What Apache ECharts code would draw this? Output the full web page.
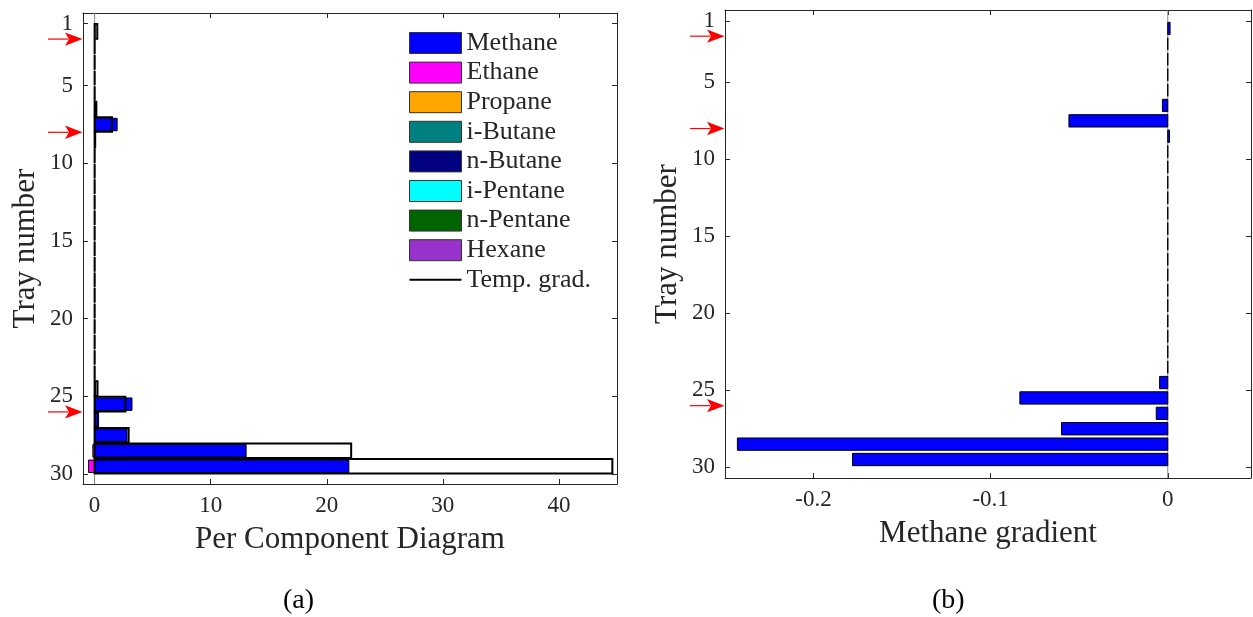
<!DOCTYPE html>
<html>
<head>
<meta charset="utf-8">
<script src="https://cdn.jsdelivr.net/npm/echarts@6/dist/echarts.min.js"></script>
<style>
  html, body { margin: 0; padding: 0; background: #ffffff; }
  #chart { width: 1253px; height: 617px; }
</style>
</head>
<body>
<div id="chart"></div>
<script>
// Gradients are reported between neighbouring trays, i.e. at the tray midpoints
const trays = [1.5, 2.5, 3.5, 4.5, 5.5, 6.5, 7.5, 8.5, 9.5, 10.5, 11.5, 12.5, 13.5, 14.5, 15.5,
               16.5, 17.5, 18.5, 19.5, 20.5, 21.5, 22.5, 23.5, 24.5, 25.5, 26.5, 27.5, 28.5, 29.5];

// Per-component contributions (stacked horizontally)
const methane   = [0.03, 0, 0, 0, 0, 0.05, 1.94, 0.02, 0, 0, 0, 0, 0, 0, 0,
                   0, 0, 0, 0, 0, 0, 0, 0, 0.10, 3.22, 0.26, 2.79, 13.05, 21.90];
const ethane    = [0, 0, 0, 0, 0, 0, 0, 0, 0, 0, 0, 0, 0, 0, 0,
                   0, 0, 0, 0, 0, 0, 0, 0, 0, 0, 0, 0, -0.15, -0.52];
const propane   = [0, 0, 0, 0, 0, 0, 0, 0, 0, 0, 0, 0, 0, 0, 0,
                   0, 0, 0, 0, 0, 0, 0, 0, 0, 0, 0, 0, 0, 0];
const iButane   = [0, 0, 0, 0, 0, 0, 0, 0, 0, 0, 0, 0, 0, 0, 0,
                   0, 0, 0, 0, 0, 0, 0, 0, 0, 0, 0, 0, 0, 0];
const nButane   = [0, 0, 0, 0, 0, 0, 0, 0, 0, 0, 0, 0, 0, 0, 0,
                   0, 0, 0, 0, 0, 0, 0, 0, 0, 0, 0, 0, 0, 0];
const iPentane  = [0, 0, 0, 0, 0, 0, 0, 0, 0, 0, 0, 0, 0, 0, 0,
                   0, 0, 0, 0, 0, 0, 0, 0, 0, 0, 0, 0, 0, 0];
const nPentane  = [0, 0, 0, 0, 0, 0, 0, 0, 0, 0, 0, 0, 0, 0, 0,
                   0, 0, 0, 0, 0, 0, 0, 0, 0, 0, 0, 0, 0, 0];
const hexane    = [0, 0, 0, 0, 0, 0, 0, 0, 0, 0, 0, 0, 0, 0, 0,
                   0, 0, 0, 0, 0, 0, 0, 0, 0, 0, 0, 0, 0, 0];
// Temperature gradient, drawn as an unfilled outline bar
const tempGrad  = [0.23, 0, 0, 0, 0, 0.15, 1.50, 0.05, 0, 0, 0, 0, 0, 0, 0,
                   0, 0, 0, 0, 0, 0, 0, 0, 0.25, 2.65, 0.30, 2.93, 22.10, 44.60];
// Methane gradient for panel (b)
const methaneGradient = [0.0013, 0, 0, 0, 0, -0.0030, -0.0558, 0.0010, 0, 0, 0, 0, 0, 0, 0,
                         0, 0, 0, 0, 0, 0, 0, 0, -0.0046, -0.0835, -0.0065, -0.0600, -0.2430, -0.1780];

// Trays marked with red arrows
const arrowTrays = [2, 8, 26];

// Axis ticks
const trayTicks = [1, 5, 10, 15, 20, 25, 30];
const compTicks = [0, 10, 20, 30, 40];
const gradTicks = [-0.2, -0.1, 0];

const componentNames = ['Methane', 'Ethane', 'Propane', 'i-Butane', 'n-Butane', 'i-Pentane', 'n-Pentane', 'Hexane'];
const componentValues = [methane, ethane, propane, iButane, nButane, iPentane, nPentane, hexane];
const componentColors = ['#0000ff', '#ff00ff', '#ffa500', '#008080', '#000080', '#00ffff', '#006400', '#9932cc'];

const FONT = 'Liberation Serif';
const INK = '#262626';
const A = { xMin: -1, xMax: 45, yMin: 0.32, yMax: 30.64 };
const B = { xMin: -0.25, xMax: 0.047, yMin: 0.3, yMax: 30.7 };

// Stack components: positives to the right of zero, negatives to the left
function stackComponents() {
  const pos = trays.map(() => 0);
  const neg = trays.map(() => 0);
  return componentValues.map((vals, ci) => {
    const out = [];
    vals.forEach((v, i) => {
      let s, e;
      if (v >= 0) { s = pos[i]; e = pos[i] + v; pos[i] = e; }
      else { s = neg[i]; e = neg[i] + v; neg[i] = e; }
      // methane is drawn everywhere (zero bars show as edges); the rest only where present
      if (ci === 0 || v !== 0) out.push([trays[i], s, e]);
    });
    return out;
  });
}
const stacked = stackComponents();

function rectItem(api, halfH, style) {
  const t = api.value(0), x0 = api.value(1), x1 = api.value(2);
  const p0 = api.coord([x0, t - halfH]);
  const p1 = api.coord([x1, t + halfH]);
  return {
    type: 'rect',
    shape: {
      x: Math.min(p0[0], p1[0]), y: Math.min(p0[1], p1[1]),
      width: Math.abs(p1[0] - p0[0]), height: Math.abs(p1[1] - p0[1])
    },
    style: style
  };
}

function barSeries(name, data, color, xi, yi) {
  return {
    type: 'custom', name: name, xAxisIndex: xi, yAxisIndex: yi, clip: false,
    itemStyle: { color: color },
    encode: { y: 0, x: [1, 2] },
    data: data,
    renderItem: (params, api) => rectItem(api, 0.4, { fill: color, stroke: '#000000', lineWidth: 1 })
  };
}

function baselineSeries(xi, yi, r) {
  return {
    type: 'custom', name: 'baseline', xAxisIndex: xi, yAxisIndex: yi, silent: true,
    data: [[0, r.yMin, r.yMax]],
    renderItem: (params, api) => {
      const a = api.coord([api.value(0), api.value(1)]);
      const b = api.coord([api.value(0), api.value(2)]);
      return { type: 'line', shape: { x1: a[0], y1: a[1], x2: b[0], y2: b[1] },
               style: { stroke: '#8c8c8c', lineWidth: 1 } };
    }
  };
}

function arrowSeries(xi, yi, r) {
  return {
    type: 'custom', name: 'arrows', xAxisIndex: xi, yAxisIndex: yi, clip: false, silent: true,
    data: arrowTrays.map(t => [r.xMin, t]),
    renderItem: (params, api) => {
      const p = api.coord([api.value(0), api.value(1)]);
      const x = p[0] - 0.5, y = p[1];
      return {
        type: 'group',
        children: [
          { type: 'line', shape: { x1: x - 34.5, y1: y, x2: x - 14, y2: y },
            style: { stroke: '#ff0000', lineWidth: 1.2 } },
          { type: 'polygon', shape: { points: [[x, y], [x - 17.5, y - 6.7], [x - 13.5, y], [x - 17.5, y + 6.7]] },
            style: { fill: '#ff0000' } }
        ]
      };
    }
  };
}

function xAxes(gi, r, ticks, name, fmt) {
  const line = { show: true, onZero: false, lineStyle: { color: INK, width: 1 } };
  return [
    {
      gridIndex: gi, type: 'value', position: 'bottom', min: r.xMin, max: r.xMax,
      axisLine: line,
      axisTick: { show: true, inside: true, length: 5, customValues: ticks, lineStyle: { color: INK } },
      axisLabel: { show: true, customValues: ticks, margin: 10, fontFamily: FONT, fontSize: 23, color: INK, formatter: fmt },
      splitLine: { show: false },
      name: name, nameLocation: 'middle', nameGap: 40,
      nameTextStyle: { fontFamily: FONT, fontSize: 31, color: INK }
    },
    {
      gridIndex: gi, type: 'value', position: 'top', min: r.xMin, max: r.xMax,
      axisLine: line,
      axisTick: { show: true, inside: true, length: 5, customValues: ticks, lineStyle: { color: INK } },
      axisLabel: { show: false },
      splitLine: { show: false }
    }
  ];
}

function yAxes(gi, r) {
  const line = { show: true, onZero: false, lineStyle: { color: INK, width: 1 } };
  return [
    {
      gridIndex: gi, type: 'value', position: 'left', inverse: true, min: r.yMin, max: r.yMax,
      axisLine: line,
      axisTick: { show: true, inside: true, length: 5, customValues: trayTicks, lineStyle: { color: INK } },
      axisLabel: { show: true, customValues: trayTicks, margin: 10, fontFamily: FONT, fontSize: 23, color: INK },
      splitLine: { show: false },
      name: 'Tray number', nameLocation: 'middle', nameGap: 42,
      nameTextStyle: { fontFamily: FONT, fontSize: 31, color: INK }
    },
    {
      gridIndex: gi, type: 'value', position: 'right', inverse: true, min: r.yMin, max: r.yMax,
      axisLine: line,
      axisTick: { show: true, inside: true, length: 5, customValues: trayTicks, lineStyle: { color: INK } },
      axisLabel: { show: false },
      splitLine: { show: false }
    }
  ];
}

const series = [];
// Panel (a)
series.push(baselineSeries(0, 0, A));
stacked.forEach((data, ci) => {
  series.push(barSeries(componentNames[ci], data, componentColors[ci], 0, 0));
});
series.push({
  type: 'custom', name: 'Temp. grad.', xAxisIndex: 0, yAxisIndex: 0, clip: false,
  itemStyle: { color: '#000000' },
  encode: { y: 0, x: [1, 2] },
  data: trays.map((t, i) => [t, 0, tempGrad[i]]),
  renderItem: (params, api) => rectItem(api, 0.47, { fill: 'none', stroke: '#000000', lineWidth: 2 })
});
series.push(arrowSeries(0, 0, A));
// Panel (b)
series.push(baselineSeries(2, 2, B));
series.push(barSeries('Methane gradient', trays.map((t, i) => [t, 0, methaneGradient[i]]), '#0000ff', 2, 2));
series.push(arrowSeries(2, 2, B));

const legendData = componentNames.map((n, i) => ({
  name: n, icon: 'rect',
  itemStyle: { color: componentColors[i], borderColor: '#333333', borderWidth: 1 }
}));
legendData.push({
  name: 'Temp. grad.',
  icon: 'path://M0,18H100V22H0Z M0,0h0.1v0.1h-0.1Z M0,40h0.1v-0.1h-0.1Z',
  itemStyle: { color: '#000000', borderWidth: 0 }
});

const option = {
  animation: false,
  backgroundColor: '#ffffff',
  grid: [
    { left: 83, top: 13, width: 534, height: 471, containLabel: false, outerBoundsMode: 'none' },
    { left: 725, top: 10, width: 526, height: 468, containLabel: false, outerBoundsMode: 'none' }
  ],
  xAxis: [
    ...xAxes(0, A, compTicks, 'Per Component Diagram', v => String(v)),
    ...xAxes(1, B, gradTicks, 'Methane gradient', v => (v === 0 ? '0' : String(v)))
  ],
  yAxis: [...yAxes(0, A), ...yAxes(1, B)],
  legend: {
    left: 409, top: 30, orient: 'vertical', padding: 0,
    itemWidth: 52, itemHeight: 21, itemGap: 3.6,
    selectedMode: false,
    textStyle: { fontFamily: FONT, fontSize: 26, color: INK },
    data: legendData
  },
  graphic: [
    { type: 'text', left: 283, top: 587, style: { text: '(a)', font: '28px "Liberation Serif"', fill: '#000000' } },
    { type: 'text', left: 932, top: 587, style: { text: '(b)', font: '28px "Liberation Serif"', fill: '#000000' } }
  ],
  series: series
};

const chart = echarts.init(document.getElementById('chart'), null, { renderer: 'canvas' });
chart.setOption(option);
</script>
</body>
</html>
